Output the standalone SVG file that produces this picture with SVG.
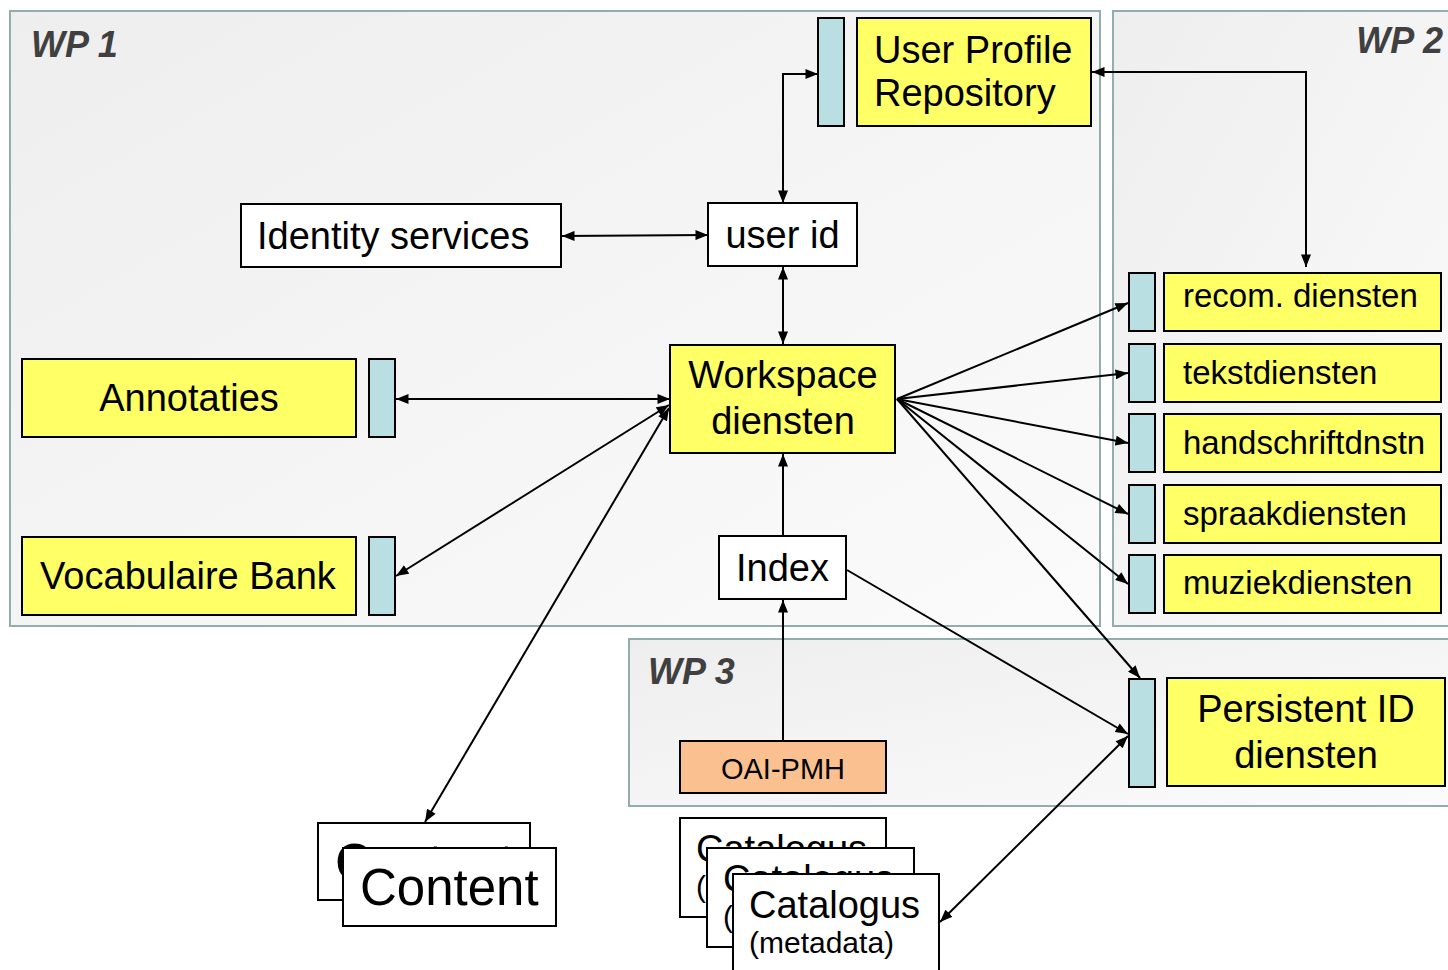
<svg xmlns="http://www.w3.org/2000/svg" width="1448" height="970" viewBox="0 0 1448 970">
<style>
.wp{stroke:#93adad;stroke-width:2;fill:url(#bg)}
.wpl{font-family:"Liberation Sans",Arial,sans-serif;font-weight:bold;font-style:italic;font-size:36px;fill:#404040}
.y{fill:#ffff66;stroke:#000;stroke-width:2}
.t{fill:#b9dfe3;stroke:#000;stroke-width:2}
.w{fill:#fff;stroke:#000;stroke-width:2}
.o{fill:#fac090;stroke:#000;stroke-width:2}
text{font-family:"Liberation Sans",Arial,sans-serif;fill:#000}
.f38{font-size:38px}
.f33{font-size:33px}
.c{text-anchor:middle}
.con line,.con path{stroke:#000;stroke-width:2;fill:none}
.b{marker-start:url(#ah);marker-end:url(#ah)}
.e{marker-end:url(#ah)}
</style>
<defs>
<linearGradient id="bg" x1="0" y1="0" x2="1" y2="1">
<stop offset="0" stop-color="#eeeeee"/>
<stop offset="1" stop-color="#fbfbfb"/>
</linearGradient>
<marker id="ah" viewBox="0 0 10 8" refX="10" refY="4" markerWidth="13" markerHeight="10" markerUnits="userSpaceOnUse" orient="auto-start-reverse">
<path d="M0,0 L10,4 L0,8 z" fill="#000"/>
</marker>
</defs>
<rect width="1448" height="970" fill="#fff"/>
<g id="wp1"><rect class="wp" x="10" y="11" width="1090" height="615"/><text class="wpl" x="31" y="57">WP 1</text></g>
<g id="wp2"><rect class="wp" x="1113" y="11" width="345" height="615"/><text class="wpl" x="1443" y="53" text-anchor="end">WP 2</text></g>
<g id="wp3"><rect class="wp" x="629" y="639" width="829" height="167"/><text class="wpl" x="648" y="684">WP 3</text></g>

<g class="con">
<path class="b" d="M818,74 H783 V203"/>
<path class="b" d="M1092,72 H1306 V267"/>
<line class="b" x1="562" y1="236" x2="708" y2="235"/>
<line class="b" x1="783" y1="267" x2="783" y2="344"/>
<line class="b" x1="396" y1="399" x2="670" y2="399"/>
<line class="b" x1="396" y1="576" x2="669" y2="405"/>
<line class="b" x1="425" y1="822" x2="669" y2="408"/>
<line class="e" x1="897" y1="399" x2="1128" y2="303"/>
<line class="e" x1="897" y1="399" x2="1128" y2="373"/>
<line class="e" x1="897" y1="399" x2="1128" y2="443"/>
<line class="e" x1="897" y1="399" x2="1128" y2="514"/>
<line class="e" x1="897" y1="399" x2="1128" y2="584"/>
<line class="e" x1="897" y1="399" x2="1140" y2="678"/>
<line class="e" x1="783" y1="536" x2="783" y2="454"/>
<line class="e" x1="783" y1="741" x2="783" y2="600"/>
<line class="e" x1="847" y1="570" x2="1128" y2="734"/>
<line class="b" x1="940" y1="922" x2="1128" y2="736"/>
</g>

<g id="userprofile"><rect class="t" x="818" y="18" width="26" height="108"/><rect class="y" x="857" y="18" width="234" height="108"/><text class="f38" x="874" y="63">User Profile</text><text class="f38" x="874" y="106">Repository</text></g>
<g id="identity"><rect class="w" x="241" y="204" width="320" height="63"/><text class="f38" x="257" y="249">Identity services</text></g>
<g id="userid"><rect class="w" x="708" y="203" width="149" height="63"/><text class="f38 c" x="782.5" y="248">user id</text></g>
<g id="workspace"><rect class="y" x="670" y="345" width="225" height="108"/><text class="f38 c" x="783" y="388">Workspace</text><text class="f38 c" x="783" y="434">diensten</text></g>
<g id="annotaties"><rect class="y" x="22" y="359" width="334" height="78"/><rect class="t" x="369" y="359" width="26" height="78"/><text class="f38 c" x="189" y="411">Annotaties</text></g>
<g id="vocabulaire"><rect class="y" x="22" y="537" width="334" height="78"/><rect class="t" x="369" y="537" width="26" height="78"/><text class="f38 c" x="188" y="589">Vocabulaire Bank</text></g>
<g id="index"><rect class="w" x="719" y="536" width="127" height="63"/><text class="f38 c" x="782.5" y="581">Index</text></g>
<g id="oaipmh"><rect class="o" x="680" y="741" width="206" height="52"/><text class="c" x="783" y="779" font-size="29">OAI-PMH</text></g>
<g id="recom"><rect class="t" x="1129" y="273" width="26" height="58"/><rect class="y" x="1164" y="273" width="277" height="58"/><text class="f33" x="1183" y="307">recom. diensten</text></g>
<g id="tekst"><rect class="t" x="1129" y="344" width="26" height="58"/><rect class="y" x="1164" y="344" width="277" height="58"/><text class="f33" x="1183" y="384">tekstdiensten</text></g>
<g id="handschrift"><rect class="t" x="1129" y="414" width="26" height="58"/><rect class="y" x="1164" y="414" width="277" height="58"/><text class="f33" x="1183" y="454">handschriftdnstn</text></g>
<g id="spraak"><rect class="t" x="1129" y="485" width="26" height="58"/><rect class="y" x="1164" y="485" width="277" height="58"/><text class="f33" x="1183" y="525">spraakdiensten</text></g>
<g id="muziek"><rect class="t" x="1129" y="555" width="26" height="58"/><rect class="y" x="1164" y="555" width="277" height="58"/><text class="f33" x="1183" y="594">muziekdiensten</text></g>
<g id="persistent"><rect class="t" x="1129" y="679" width="26" height="108"/><rect class="y" x="1167" y="678" width="278" height="108"/><text class="f38 c" x="1306" y="722">Persistent ID</text><text class="f38 c" x="1306" y="768">diensten</text></g>
<g id="content">
<rect class="w" x="318" y="823" width="212" height="77"/><text x="335" y="880" font-size="51">Content</text>
<rect class="w" x="343" y="848" width="213" height="78"/><text x="360" y="905" font-size="51">Content</text>
</g>
<g id="catalogus">
<rect class="w" x="680" y="818" width="206" height="99"/><text class="f38" x="696" y="862">Catalogus</text><text x="696" y="897" font-size="30">(metadata)</text>
<rect class="w" x="707" y="848" width="207" height="99"/><text class="f38" x="723" y="892">Catalogus</text><text x="723" y="927" font-size="30">(metadata)</text>
<rect class="w" x="733" y="874" width="206" height="110"/><text class="f38" x="749" y="918">Catalogus</text><text x="749" y="953" font-size="30">(metadata)</text>
</g>
</svg>
